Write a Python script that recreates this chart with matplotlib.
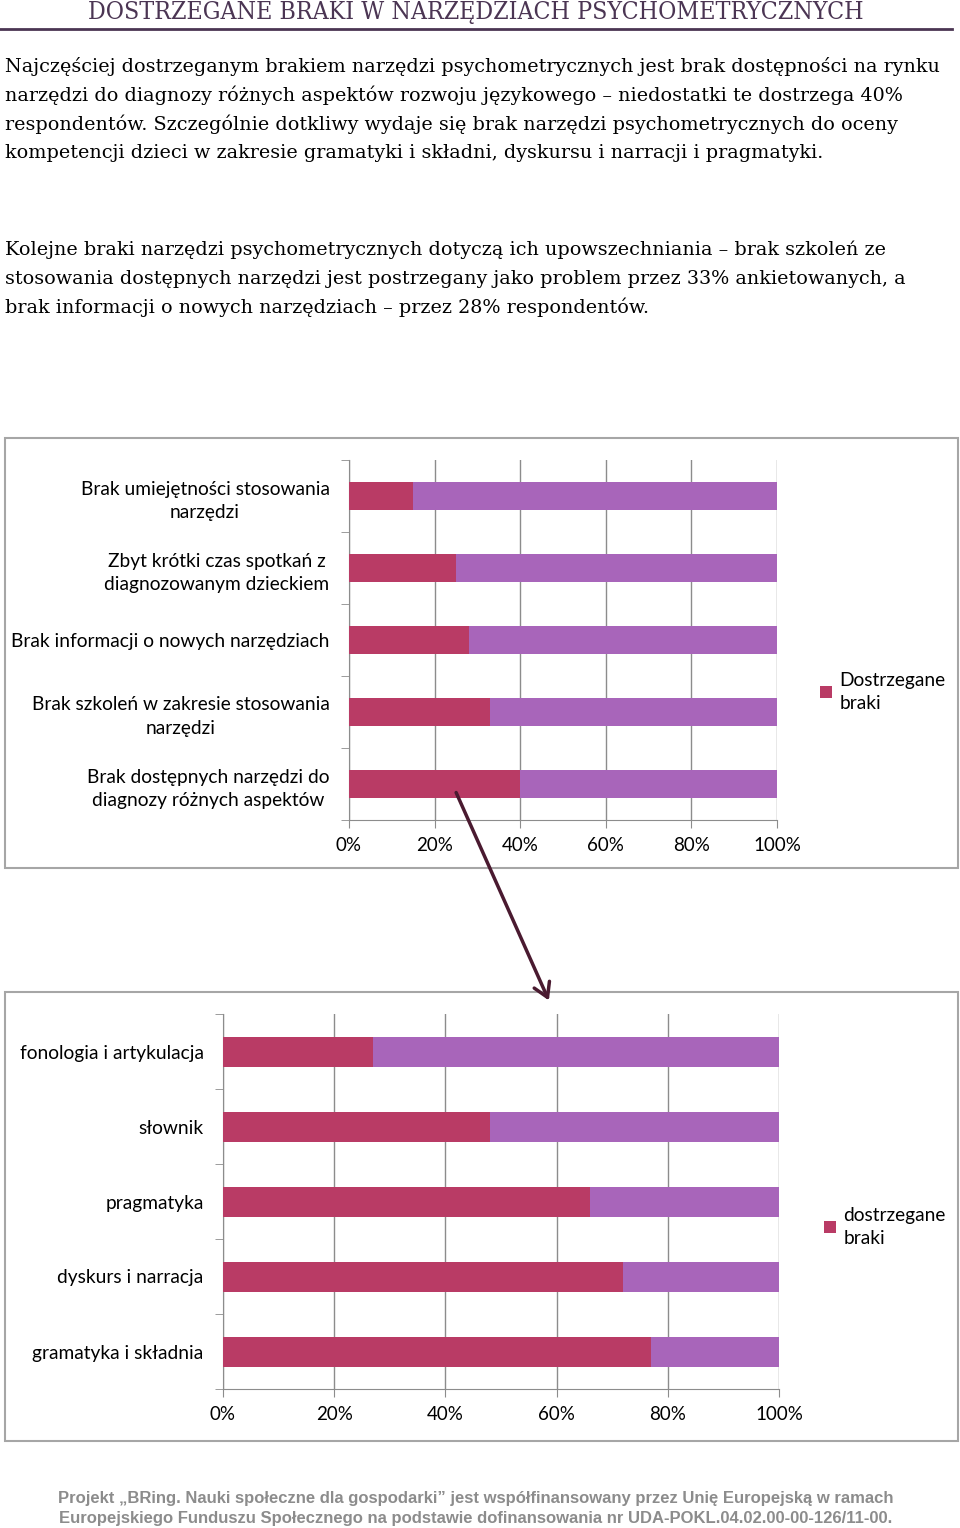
import numpy as np
import matplotlib
matplotlib.use('Agg')
import matplotlib.pyplot as plt
from matplotlib.patches import Rectangle, FancyArrowPatch

# Data
braki_labels = ['Brak umiejętności stosowania\nnarzędzi',
                'Zbyt krótki czas spotkań z\ndiagnozowanym dzieckiem',
                'Brak informacji o nowych narzędziach',
                'Brak szkoleń w zakresie stosowania\nnarzędzi',
                'Brak dostępnych narzędzi do\ndiagnozy różnych aspektów']
braki_values = [15, 25, 28, 33, 40]

aspekty_labels = ['fonologia i artykulacja', 'słownik', 'pragmatyka',
                  'dyskurs i narracja', 'gramatyka i składnia']
aspekty_values = [27, 48, 66, 72, 77]

x_ticks = [0, 20, 40, 60, 80, 100]
x_ticklabels = ['0%', '20%', '40%', '60%', '80%', '100%']

title = 'DOSTRZEGANE BRAKI W NARZĘDZIACH PSYCHOMETRYCZNYCH'
para1 = ['Najczęściej dostrzeganym brakiem narzędzi psychometrycznych jest brak dostępności na rynku',
         'narzędzi do diagnozy różnych aspektów rozwoju językowego – niedostatki te dostrzega 40%',
         'respondentów. Szczególnie dotkliwy wydaje się brak narzędzi psychometrycznych do oceny',
         'kompetencji dzieci w zakresie gramatyki i składni, dyskursu i narracji i pragmatyki.']
para2 = ['Kolejne braki narzędzi psychometrycznych dotyczą ich upowszechniania – brak szkoleń ze',
         'stosowania dostępnych narzędzi jest postrzegany jako problem przez 33% ankietowanych, a',
         'brak informacji o nowych narzędziach – przez 28% respondentów.']
footer = ['Projekt „BRing. Nauki społeczne dla gospodarki” jest współfinansowany przez Unię Europejską w ramach',
          'Europejskiego Funduszu Społecznego na podstawie dofinansowania nr UDA-POKL.04.02.00-00-126/11-00.']

RED = '#B93B65'
PURPLE = '#A865BA'
GRID = '#8C8C8C'
W, H = 960, 1528

fig = plt.figure(figsize=(W / 100, H / 100), dpi=100)


def px(x, y):
    return x / W, 1 - y / H


def rect(l, t, r, b):
    return [l / W, 1 - b / H, (r - l) / W, (b - t) / H]


# header
fig.text(*px(476, 13), title, ha='center', va='center', fontsize=17.8,
         family='DejaVu Serif', fontstretch='condensed', color='#4B3553')
fig.add_artist(plt.Line2D([0, 952 / W], [1 - 29 / H] * 2, color='#4B3553', lw=2))

for i, line in enumerate(para1):
    fig.text(*px(5, 67 + i * 28.5), line, ha='left', va='center',
             fontsize=13.8, family='DejaVu Serif', color='black')
for i, line in enumerate(para2):
    fig.text(*px(5, 250 + i * 28.5), line, ha='left', va='center',
             fontsize=13.8, family='DejaVu Serif', color='black')


def stacked(box, labels, values, legend_text, legend_xy):
    ax = fig.add_axes(box)
    y = np.arange(len(values))
    rest = [100 - v for v in values]
    b1 = ax.barh(y, values, height=0.4, color=RED, zorder=3)
    ax.barh(y, rest, left=values, height=0.4, color=PURPLE, zorder=3)
    ax.set_xlim(0, 100)
    ax.set_ylim(len(values) - 0.5, -0.5)
    ax.set_xticks(x_ticks)
    ax.set_xticklabels(x_ticklabels, family='Lato', fontsize=13.5)
    ax.set_yticks(y)
    ax.set_yticklabels(labels, family='Lato', fontsize=13.8)
    for t in ax.get_yticklabels():
        t.set_multialignment('center')
        t.set_linespacing(1.45)
    ax.set_yticks(np.arange(len(values) + 1) - 0.5, minor=True)
    ax.tick_params(axis='y', which='major', length=0, pad=14)
    ax.tick_params(axis='y', which='minor', length=6, color=GRID, direction='out')
    ax.tick_params(axis='x', length=6, color=GRID, pad=6)
    ax.grid(axis='x', color=GRID, lw=1, zorder=0)
    for s in ['top', 'right']:
        ax.spines[s].set_visible(False)
    for s in ['left', 'bottom']:
        ax.spines[s].set_color(GRID)
    leg = fig.legend([b1], [legend_text], loc='upper left', bbox_to_anchor=px(*legend_xy),
                     frameon=False, handlelength=0.6, handleheight=0.6, handletextpad=0.4,
                     prop={'family': 'Lato', 'size': 13.8}, borderaxespad=0, borderpad=0)
    for t in leg.get_texts():
        t.set_linespacing(1.45)
    return ax


fig.add_artist(Rectangle(px(5, 868), 953 / W, 430 / H, transform=fig.transFigure,
                         fill=False, ec='#A6A6A6', lw=1.5))
stacked(rect(349, 460, 777, 820), braki_labels, braki_values, 'Dostrzegane\nbraki', (820, 672))

fig.add_artist(Rectangle(px(5, 1441), 953 / W, 449 / H, transform=fig.transFigure,
                         fill=False, ec='#A6A6A6', lw=1.5))
stacked(rect(223, 1014, 779, 1389), aspekty_labels, aspekty_values, 'dostrzegane\nbraki', (824, 1207))

# arrow linking the charts
fig.add_artist(FancyArrowPatch(px(455, 790), px(550, 1003), transform=fig.transFigure,
                               arrowstyle='->,head_length=10,head_width=6', color='#4A1A30',
                               lw=2.5, mutation_scale=1))

for i, line in enumerate(footer):
    fig.text(*px(476, 1499 + i * 19), line, ha='center', va='center', fontsize=12,
             family=['Liberation Sans Narrow', 'Liberation Sans'], weight='bold', color='#8C8C8C')

fig.savefig('out.png', dpi=100)
